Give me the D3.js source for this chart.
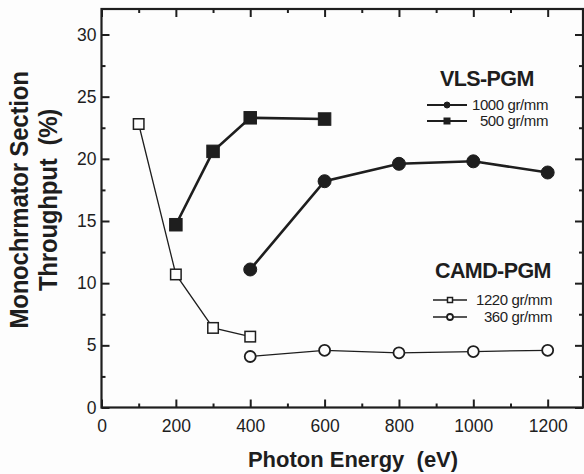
<!DOCTYPE html>
<html>
<head>
<meta charset="utf-8">
<script src="https://cdn.jsdelivr.net/npm/d3@7"></script>
<style>
  html, body { margin: 0; padding: 0; background: #fdfdfd; }
  svg { display: block; }
  text { font-family: "Liberation Sans", Arial, Helvetica, sans-serif; fill: #1e1e1e; }
</style>
</head>
<body>
<div id="chart"></div>
<script>
// --- data ---
const energy1220 = [100, 200, 300, 400];
const thr1220    = [22.8, 10.7, 6.4, 5.7];
const energy500  = [200, 300, 400, 600];
const thr500     = [14.7, 20.6, 23.3, 23.2];
const energy1000 = [400, 600, 800, 1000, 1200];
const thr1000    = [11.1, 18.2, 19.6, 19.8, 18.9];
const energy360  = [400, 600, 800, 1000, 1200];
const thr360     = [4.1, 4.6, 4.4, 4.5, 4.6];

const xMajor = [0, 200, 400, 600, 800, 1000, 1200];
const xMinor = [100, 300, 500, 700, 900, 1100];
const yMajor = [0, 5, 10, 15, 20, 25, 30];
const yMinor = [2.5, 7.5, 12.5, 17.5, 22.5, 27.5];

const W = 584, H = 474;
const margin = { left: 101.5, right: 1, top: 9, bottom: 66.5 };
const ink = "#1e1e1e";

const svg = d3.select("#chart").append("svg")
    .attr("width", W)
    .attr("height", H);

const x = d3.scaleLinear().domain([0, 1295]).range([margin.left, W - margin.right]);
const y = d3.scaleLinear().domain([0, 32.05]).range([H - margin.bottom, margin.top]);

const x0 = x.range()[0], x1 = x.range()[1];
const y0 = y.range()[0], y1 = y.range()[1];

// frame
svg.append("rect")
    .attr("x", x0).attr("y", y1)
    .attr("width", x1 - x0).attr("height", y0 - y1)
    .attr("fill", "none").attr("stroke", ink).attr("stroke-width", 2.2);

// axes with inward ticks
function styleAxis(g) {
    g.select(".domain").remove();
    g.selectAll(".tick line").attr("stroke", ink).attr("stroke-width", 2);
    g.selectAll(".tick text").style("font-size", "17.5px").attr("fill", ink);
}

svg.append("g").attr("transform", `translate(0,${y0})`)
    .call(d3.axisBottom(x).tickValues(xMajor).tickSize(-8).tickPadding(12).tickFormat(d3.format("d")))
    .call(styleAxis);
svg.append("g").attr("transform", `translate(0,${y0})`)
    .call(d3.axisBottom(x).tickValues(xMinor).tickSize(-4).tickFormat(""))
    .call(styleAxis);
svg.append("g").attr("transform", `translate(0,${y1})`)
    .call(d3.axisTop(x).tickValues(xMajor).tickSize(-8).tickFormat(""))
    .call(styleAxis);
svg.append("g").attr("transform", `translate(0,${y1})`)
    .call(d3.axisTop(x).tickValues(xMinor).tickSize(-4).tickFormat(""))
    .call(styleAxis);

svg.append("g").attr("transform", `translate(${x0},0)`)
    .call(d3.axisLeft(y).tickValues(yMajor).tickSize(-8).tickPadding(5).tickFormat(d3.format("d")))
    .call(styleAxis);
svg.append("g").attr("transform", `translate(${x0},0)`)
    .call(d3.axisLeft(y).tickValues(yMinor).tickSize(-4).tickFormat(""))
    .call(styleAxis);
svg.append("g").attr("transform", `translate(${x1},0)`)
    .call(d3.axisRight(y).tickValues(yMajor).tickSize(-8).tickFormat(""))
    .call(styleAxis);
svg.append("g").attr("transform", `translate(${x1},0)`)
    .call(d3.axisRight(y).tickValues(yMinor).tickSize(-4).tickFormat(""))
    .call(styleAxis);

// axis titles
svg.append("text")
    .attr("x", 353).attr("y", 466.5)
    .attr("text-anchor", "middle")
    .attr("xml:space", "preserve")
    .style("font-size", "22px").style("font-weight", "bold")
    .text("Photon Energy  (eV)");

const yTitle = [["Monochrmator Section", 27.5], ["Throughput  (%)", 56.5]];
yTitle.forEach(([t, bx]) => {
    svg.append("text")
        .attr("transform", `translate(${bx},200) rotate(-90) scale(1,1.05)`)
        .attr("text-anchor", "middle")
        .attr("xml:space", "preserve")
        .style("font-size", "24px").style("font-weight", "bold")
        .style("letter-spacing", "-0.2px")
        .text(t);
});

// series
const series = [
    { xs: energy1220, ys: thr1220, shape: "square", filled: false, lw: 1.3, size: 10.5 },
    { xs: energy360,  ys: thr360,  shape: "circle", filled: false, lw: 1.3, size: 5.5 },
    { xs: energy500,  ys: thr500,  shape: "square", filled: true,  lw: 2.6, size: 12.5 },
    { xs: energy1000, ys: thr1000, shape: "circle", filled: true,  lw: 2.6, size: 6.5 }
];

const line = d3.line().x(d => x(d[0])).y(d => y(d[1]));

function marker(g, shape, filled, size, cx, cy) {
    if (shape === "square") {
        g.append("rect")
            .attr("x", cx - size / 2).attr("y", cy - size / 2)
            .attr("width", size).attr("height", size)
            .attr("fill", filled ? ink : "#fdfdfd")
            .attr("stroke", ink).attr("stroke-width", filled ? 1 : 1.5);
    } else {
        g.append("circle")
            .attr("cx", cx).attr("cy", cy).attr("r", size)
            .attr("fill", filled ? ink : "#fdfdfd")
            .attr("stroke", ink).attr("stroke-width", filled ? 1 : 1.8);
    }
}

series.forEach(s => {
    const pts = d3.zip(s.xs, s.ys);
    svg.append("path")
        .datum(pts)
        .attr("d", line)
        .attr("fill", "none")
        .attr("stroke", ink)
        .attr("stroke-width", s.lw);
    const g = svg.append("g");
    pts.forEach(p => marker(g, s.shape, s.filled, s.size, x(p[0]), y(p[1])));
});

// legends
function legendTitle(t, lx, ly) {
    svg.append("text")
        .attr("x", lx).attr("y", ly)
        .style("font-size", "21.5px").style("font-weight", "bold")
        .style("letter-spacing", "-0.6px")
        .text(t);
}
function legendRow(label, shape, filled, lw, size, lx1, lx2, tx, ly) {
    svg.append("line")
        .attr("x1", lx1).attr("x2", lx2)
        .attr("y1", ly - 5).attr("y2", ly - 5)
        .attr("stroke", ink).attr("stroke-width", lw);
    marker(svg, shape, filled, size, (lx1 + lx2) / 2, ly - 5);
    svg.append("text")
        .attr("x", tx).attr("y", ly)
        .attr("text-anchor", "end")
        .style("font-size", "15px")
        .style("letter-spacing", "-0.4px")
        .text(label);
}

legendTitle("VLS-PGM", 440, 86);
legendRow("1000 gr/mm", "circle", true, 2, 3, 427, 467, 548, 110);
legendRow("500 gr/mm", "square", true, 2, 6, 427, 467, 548, 126);

legendTitle("CAMD-PGM", 435, 278);
legendRow("1220 gr/mm", "square", false, 1.3, 5, 433, 467, 552, 305);
legendRow("360 gr/mm", "circle", false, 1.3, 3, 433, 467, 552, 322);
</script>
</body>
</html>
